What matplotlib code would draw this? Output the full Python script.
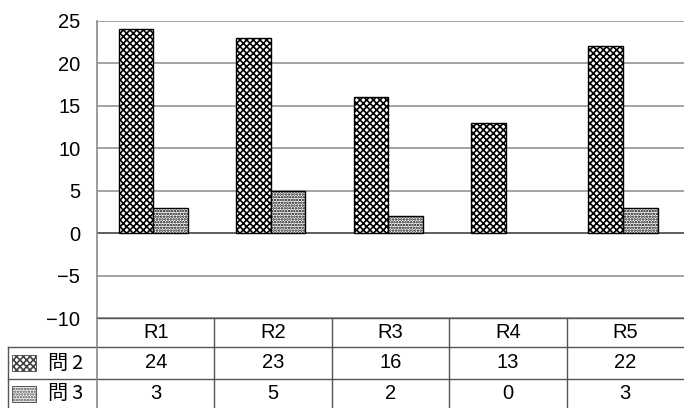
import numpy as np
import matplotlib.pyplot as plt
from matplotlib.patches import Rectangle

plt.rcParams['font.family'] = ['Liberation Sans', 'Noto Sans CJK JP']
plt.rcParams['hatch.linewidth'] = 1.2

# === Data ===
categories = ["R1", "R2", "R3", "R4", "R5"]
series_names = ["問2", "問3"]
q2 = [24, 23, 16, 13, 22]
q3 = [3, 5, 2, 0, 3]
y_ticks = [-10, -5, 0, 5, 10, 15, 20, 25]

hatches = ["xxxxx", "......"]
grid_col = "#8a8a8a"
fs = 14.5

W, H = 684, 408
fig = plt.figure(figsize=(W / 100, H / 100), dpi=100)

# main plot area (pixel box -> figure fraction)
left, right, top, bottom = 97, 684, 21, 318
ax = fig.add_axes([left / W, (H - bottom) / H, (right - left) / W, (bottom - top) / H])

x = np.arange(len(categories))
bw = 0.295
for i, (vals, h) in enumerate(zip([q2, q3], hatches)):
    offs = (i - 0.5) * bw - 0.02
    bars = ax.bar(x + offs, vals, width=bw, color="white", edgecolor="black",
                  hatch=h, linewidth=1.0, zorder=3)
    for b, v in zip(bars, vals):
        if v == 0:
            b.set_visible(False)

ax.set_xlim(-0.5, len(categories) - 0.5)
ax.set_ylim(-10, 25)
ax.set_yticks(y_ticks)
ax.set_yticklabels([str(t).replace("-", "\u2212") for t in y_ticks], fontsize=fs)
ax.tick_params(axis="y", length=0, pad=12)
ax.tick_params(axis="x", bottom=False, labelbottom=False)
for t in y_ticks:
    ax.axhline(t, color="#333333" if t == 0 else grid_col, lw=1.1, zorder=1)
for s in ["top", "right", "bottom"]:
    ax.spines[s].set_visible(False)
ax.spines["left"].set_color(grid_col)
ax.spines["left"].set_linewidth(1.2)

# === Data table below the plot ===
tab = fig.add_axes([left / W, 0, (right - left) / W, (H - bottom) / H])
tab.set_xlim(-0.5, len(categories) - 0.5)
tab.set_ylim(0, H - bottom)
tab.axis("off")
row_bounds = [H - bottom, H - 347, H - 379, 0]  # in pixels from bottom
px_per_cat = (right - left) / len(categories)
label_left = -0.5 - (left - 8) / px_per_cat
line_kw = dict(color="#555555", lw=1.0, clip_on=False)

# horizontal lines
tab.plot([-0.5, len(categories) - 0.5], [row_bounds[0]] * 2, **line_kw)
for yb in row_bounds[1:3]:
    tab.plot([label_left, len(categories) - 0.5], [yb, yb], **line_kw)
# vertical lines
tab.plot([-0.5, -0.5], [0, row_bounds[0]], color=grid_col, lw=1.2, clip_on=False)
for k in range(1, len(categories)):
    tab.plot([k - 0.5, k - 0.5], [0, row_bounds[0]], **line_kw)
tab.plot([label_left, label_left], [0, row_bounds[1]], **line_kw)

# header row
yc = (row_bounds[0] + row_bounds[1]) / 2
for k, c in enumerate(categories):
    tab.text(k, yc, c, ha="center", va="center", fontsize=fs)

# series rows
for r, (name, vals, h) in enumerate(zip(series_names, [q2, q3], hatches)):
    y0, y1 = row_bounds[r + 2], row_bounds[r + 1]
    yc = (y0 + y1) / 2
    for k, v in enumerate(vals):
        tab.text(k, yc, str(v), ha="center", va="center", fontsize=fs)
    sw = 24 / px_per_cat
    sx = label_left + 4 / px_per_cat
    tab.add_patch(Rectangle((sx, yc - 8), sw, 16, facecolor="white",
                            edgecolor="#444444", hatch=h, lw=0.6, clip_on=False))
    tab.text(label_left + 40 / px_per_cat, yc, name[0] + "\u2009" + name[1:],
             ha="left", va="center", fontsize=fs,
             family=['Noto Sans CJK JP', 'Liberation Sans'])

fig.savefig("out.png", dpi=100)
